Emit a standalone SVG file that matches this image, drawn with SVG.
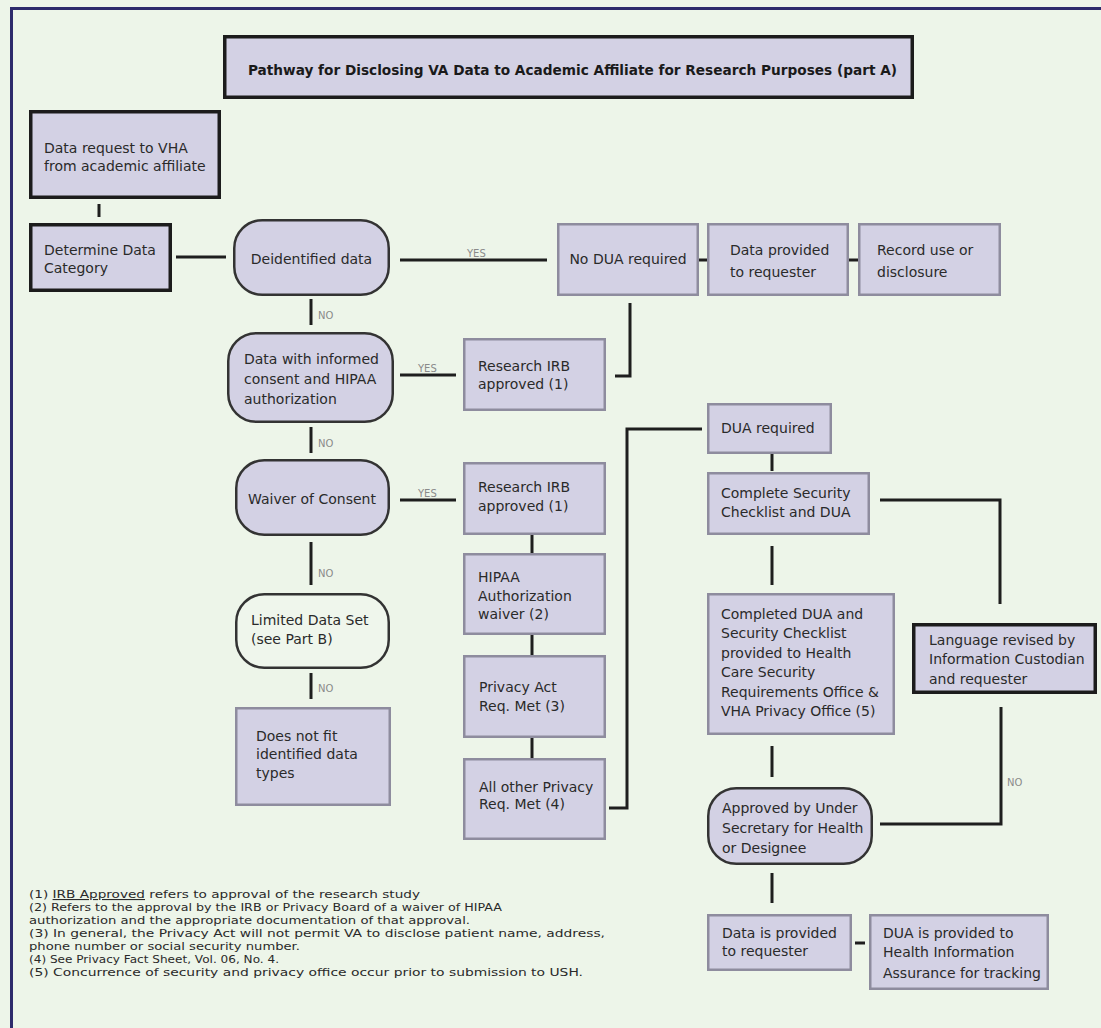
<svg xmlns="http://www.w3.org/2000/svg" width="1101" height="1028" viewBox="0 0 1101 1028">
<style>
.bg{fill:#edf5e9}
.frame{fill:none;stroke:#2d2b6b;stroke-width:3}
.bx{fill:#d3d1e4;stroke:#1c1c1c;stroke-width:3.5}
.gb{fill:#d3d1e4;stroke:#8e8c9e;stroke-width:2.5}
.rd{fill:#d3d1e4;stroke:#333;stroke-width:2.5}
.rl{fill:#eff6ec;stroke:#333;stroke-width:2.5}
text{font-family:"DejaVu Sans","Liberation Sans",sans-serif;font-size:14px;fill:#2a2a2a}
.ttl{font-family:"DejaVu Sans Condensed","DejaVu Sans",sans-serif;font-weight:bold;font-size:14px;fill:#1a1a1a}
.lb{font-size:10px;fill:#8a8a8a}
.fn{font-size:11px;fill:#2a2a2a}
.c{text-anchor:middle}
#connectors path{fill:none;stroke:#1e1e1e;stroke-width:3}
</style>
<rect class="bg" x="0" y="0" width="1101" height="1028"/>
<path class="frame" d="M11.5,1028 V8.5 H1101"/>

<g id="title"><rect class="bx" x="224.75" y="36.75" width="687.5" height="60.5"/>
<text class="ttl" x="248" y="75" textLength="649" lengthAdjust="spacingAndGlyphs">Pathway for Disclosing VA Data to Academic Affiliate for Research Purposes (part A)</text></g>

<g id="connectors">
<path d="M99,204 V217"/>
<path d="M176,257 H226"/>
<path d="M400,260 H547"/>
<path d="M699,260 H707"/>
<path d="M849,260 H858"/>
<path d="M615,376 H630 V303"/>
<path d="M311,299 V325"/>
<path d="M400,375 H456"/>
<path d="M311,427 V453"/>
<path d="M400,500 H456"/>
<path d="M532,535 V553"/>
<path d="M532,635 V655"/>
<path d="M532,738 V758"/>
<path d="M609,808 H627 V429 H702"/>
<path d="M311,542 V585"/>
<path d="M311,673 V699"/>
<path d="M772,454 V471"/>
<path d="M772,546 V585"/>
<path d="M772,746 V777"/>
<path d="M880,500 H1000 V604"/>
<path d="M880,824 H1001 V707"/>
<path d="M772,873 V903"/>
<path d="M855,943 H865"/>
<text class="lb" x="467" y="257">YES</text>
<text class="lb" x="418" y="372">YES</text>
<text class="lb" x="418" y="497">YES</text>
<text class="lb" x="318" y="319">NO</text>
<text class="lb" x="318" y="447">NO</text>
<text class="lb" x="318" y="577">NO</text>
<text class="lb" x="318" y="692">NO</text>
<text class="lb" x="1007" y="786">NO</text>
</g>

<g id="n-request"><rect class="bx" x="30.75" y="111.75" width="188.5" height="85.5"/>
<text x="44" y="153">Data request to VHA</text><text x="44" y="171">from academic affiliate</text></g>

<g id="n-determine"><rect class="bx" x="30.75" y="224.75" width="139.5" height="65.5"/>
<text x="44" y="255">Determine Data</text><text x="44" y="273">Category</text></g>

<g id="n-deidentified"><rect class="rd" x="234.25" y="220.25" width="154.5" height="74.5" rx="28"/>
<text class="c" x="311.5" y="264">Deidentified data</text></g>

<g id="n-nodua"><rect class="gb" x="558.25" y="224.25" width="139.5" height="70.5"/>
<text class="c" x="628" y="264">No DUA required</text></g>

<g id="n-dataprovided"><rect class="gb" x="708.25" y="224.25" width="139.5" height="70.5"/>
<text x="730" y="255">Data provided</text><text x="730" y="277">to requester</text></g>

<g id="n-record"><rect class="gb" x="859.25" y="224.25" width="140.5" height="70.5"/>
<text x="877" y="255">Record use or</text><text x="877" y="277">disclosure</text></g>

<g id="n-informed"><rect class="rd" x="228.25" y="333.25" width="164.5" height="88.5" rx="28"/>
<text x="244" y="364">Data with informed</text><text x="244" y="384">consent and HIPAA</text><text x="244" y="404">authorization</text></g>

<g id="n-irb1"><rect class="gb" x="464.25" y="339.25" width="140.5" height="70.5"/>
<text x="478" y="371">Research IRB</text><text x="478" y="389">approved (1)</text></g>

<g id="n-waiver"><rect class="rd" x="236.25" y="460.25" width="152.5" height="74.5" rx="28"/>
<text class="c" x="312" y="504">Waiver of Consent</text></g>

<g id="n-irb2"><rect class="gb" x="464.25" y="463.25" width="140.5" height="70.5"/>
<text x="478" y="492">Research IRB</text><text x="478" y="511">approved (1)</text></g>

<g id="n-hipaa"><rect class="gb" x="464.25" y="554.25" width="140.5" height="79.5"/>
<text x="478" y="582">HIPAA</text><text x="478" y="601">Authorization</text><text x="478" y="619">waiver (2)</text></g>

<g id="n-privacyact"><rect class="gb" x="464.25" y="656.25" width="140.5" height="80.5"/>
<text x="479" y="692">Privacy Act</text><text x="479" y="711">Req. Met (3)</text></g>

<g id="n-allother"><rect class="gb" x="464.25" y="759.25" width="140.5" height="79.5"/>
<text x="479" y="792">All other Privacy</text><text x="479" y="809">Req. Met (4)</text></g>

<g id="n-limited"><rect class="rl" x="236.25" y="594.25" width="152.5" height="73.5" rx="28"/>
<text x="251" y="625">Limited Data Set</text><text x="251" y="644">(see Part B)</text></g>

<g id="n-doesnotfit"><rect class="gb" x="236.25" y="708.25" width="153.5" height="96.5"/>
<text x="256" y="741">Does not fit</text><text x="256" y="759">identified data</text><text x="256" y="778">types</text></g>

<g id="n-duarequired"><rect class="gb" x="708.25" y="404.25" width="122.5" height="48.5"/>
<text x="721" y="433">DUA required</text></g>

<g id="n-checklist"><rect class="gb" x="708.25" y="473.25" width="160.5" height="60.5"/>
<text x="721" y="498">Complete Security</text><text x="721" y="517">Checklist and DUA</text></g>

<g id="n-completed"><rect class="gb" x="708.25" y="594.25" width="185.5" height="139.5"/>
<text x="721" y="619">Completed DUA and</text><text x="721" y="638">Security Checklist</text><text x="721" y="658">provided to Health</text><text x="721" y="677">Care Security</text><text x="721" y="697">Requirements Office &amp;</text><text x="721" y="716">VHA Privacy Office (5)</text></g>

<g id="n-language"><rect class="bx" x="913.75" y="624.75" width="181.5" height="67.5"/>
<text x="929" y="645">Language revised by</text><text x="929" y="664">Information Custodian</text><text x="929" y="684">and requester</text></g>

<g id="n-approved"><rect class="rd" x="708.25" y="788.25" width="163.5" height="75.5" rx="28"/>
<text x="722" y="813">Approved by Under</text><text x="722" y="833">Secretary for Health</text><text x="722" y="853">or Designee</text></g>

<g id="n-dataisprovided"><rect class="gb" x="708.25" y="915.25" width="142.5" height="54.5"/>
<text x="722" y="938">Data is provided</text><text x="722" y="956">to requester</text></g>

<g id="n-duaprovided"><rect class="gb" x="870.25" y="915.25" width="177.5" height="73.5"/>
<text x="883" y="938">DUA is provided to</text><text x="883" y="957">Health Information</text><text x="883" y="978">Assurance for tracking</text></g>

<g id="footnotes">
<text class="fn" x="29" y="898" textLength="391" lengthAdjust="spacingAndGlyphs">(1) <tspan text-decoration="underline">IRB Approved</tspan> refers to approval of the research study</text>
<text class="fn" x="29" y="911" textLength="473" lengthAdjust="spacingAndGlyphs">(2) Refers to the approval by the IRB or Privacy Board of a waiver of HIPAA</text>
<text class="fn" x="29" y="924" textLength="441" lengthAdjust="spacingAndGlyphs">authorization and the appropriate documentation of that approval.</text>
<text class="fn" x="29" y="937" textLength="576" lengthAdjust="spacingAndGlyphs">(3) In general, the Privacy Act will not permit VA to disclose patient name, address,</text>
<text class="fn" x="29" y="950" textLength="271" lengthAdjust="spacingAndGlyphs">phone number or social security number.</text>
<text class="fn" x="29" y="963" textLength="250" lengthAdjust="spacingAndGlyphs">(4) See Privacy Fact Sheet, Vol. 06, No. 4.</text>
<text class="fn" x="29" y="976" textLength="554" lengthAdjust="spacingAndGlyphs">(5) Concurrence of security and privacy office occur prior to submission to USH.</text>
</g>
</svg>
